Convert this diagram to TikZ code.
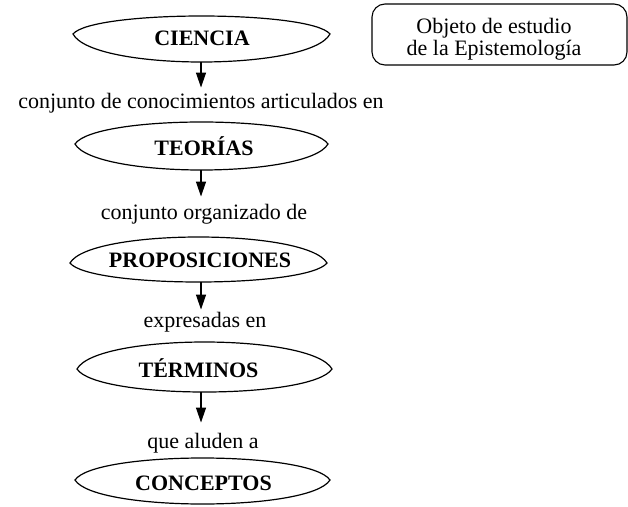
\documentclass[tikz,border=0pt]{standalone}
\usepackage{fontspec}
\setmainfont{Liberation Serif}
\usetikzlibrary{arrows.meta,calc}
\tikzset{
  lensline/.style={line width=1.2pt},
  concept/.style={font=\fontsize{22}{24}\selectfont\bfseries, inner sep=0pt, anchor=base},
  linklabel/.style={font=\fontsize{22}{24}\selectfont, inner sep=0pt, anchor=base},
  arr/.style={line width=1.3pt, -{Triangle[length=15pt,width=10pt]}},
  notebox/.style={draw, line width=1.1pt, rounded corners=13pt, minimum width=255pt, minimum height=61pt, inner sep=0pt},
  boxtext/.style={font=\fontsize{22}{22}\selectfont, align=center, inner sep=0pt}
}
% xl, xr, y of tips, y of top, y of bottom (pixel units, y downwards)
\newcommand{\lensshape}[5]{%
  \draw[lensline] (#1,#3) .. controls ({#1+20},{#3-(#3-#4)/0.75}) and ({#2-20},{#3-(#3-#4)/0.75}) .. (#2,#3)
    .. controls ({#2-20},{#3+(#5-#3)/0.75}) and ({#1+20},{#3+(#5-#3)/0.75}) .. cycle;}
\begin{document}
\begin{tikzpicture}[x=1pt,y=-1pt]
\useasboundingbox (0,0) rectangle (628,506);

% lens outlines
\lensshape{73}{330}{34}{16}{62}
\lensshape{75}{328}{144}{122}{170}
\lensshape{70}{327}{263}{237}{282}
\lensshape{77}{332}{369}{342}{392}
\lensshape{75}{330}{480}{458}{504}

% concept texts
\node[concept] (t1) at (202,45) {CIENCIA};
\node[concept] (t2) at (204,155) {TEORÍAS};
\node[concept] (t3) at (200,267) {PROPOSICIONES};
\node[concept] (t4) at (198.5,377) {TÉRMINOS};
\node[concept] (t5) at (203.5,490) {CONCEPTOS};

% link labels
\node[linklabel] (l1) at (201,108) {conjunto de conocimientos articulados en};
\node[linklabel] (l2) at (204,219) {conjunto organizado de};
\node[linklabel] (l3) at (205,327) {expresadas en};
\node[linklabel] (l4) at (203,448) {que aluden a};

% lens bottoms
\coordinate (b1) at (201,62);
\coordinate (b2) at (201,170);
\coordinate (b3) at (201,282);
\coordinate (b4) at (201,392);

% arrows
\draw[arr, shorten >=5pt] (b1) -- (b1 |- l1.north);
\draw[arr, shorten >=7pt] (b2) -- (b2 |- l2.north);
\draw[arr, shorten >=2pt] (b3) -- (b3 |- l3.north);
\draw[arr, shorten >=10pt] (b4) -- (b4 |- l4.north);

% note box
\node[notebox] (objbox) at (499.5,34.5) {};
\node[boxtext] (objtext) at (494,39) {Objeto de estudio\\de la Epistemología};
\end{tikzpicture}
\end{document}
